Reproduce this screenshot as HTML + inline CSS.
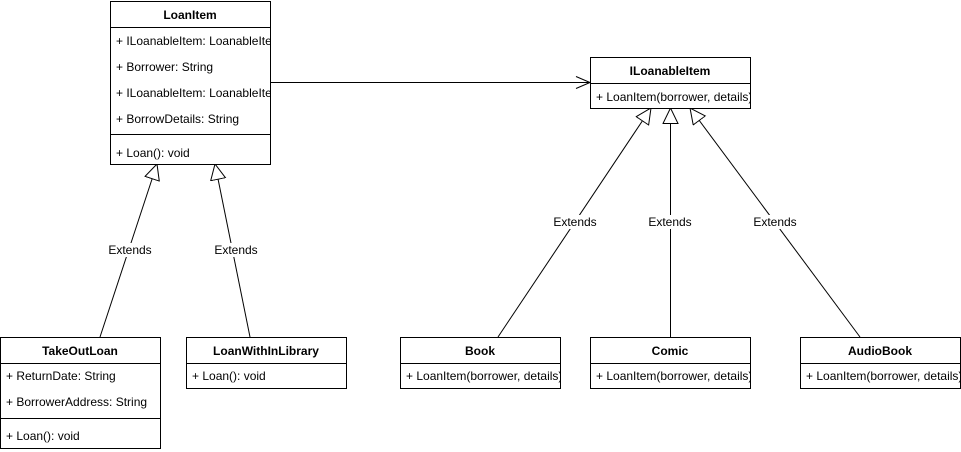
<!DOCTYPE html>
<html><head><meta charset="utf-8"><style>
html,body{margin:0;padding:0;background:#fff;width:961px;height:452px;overflow:hidden}
svg text{font-family:"Liberation Sans",Arial,sans-serif;font-size:12px;fill:#000}
.h{font-weight:bold;text-anchor:middle}
</style></head><body>
<svg width="961" height="452" viewBox="0 0 961 452" xmlns="http://www.w3.org/2000/svg">
<defs>
<marker id="tri" markerUnits="userSpaceOnUse" markerWidth="20" markerHeight="20" refX="16" refY="8" orient="auto">
<path d="M0.5,0.5 L16,8 L0.5,15.5 Z" fill="#fff" stroke="#000" stroke-width="1"/>
</marker>
<marker id="open" markerUnits="userSpaceOnUse" markerWidth="20" markerHeight="20" refX="15" refY="7" orient="auto">
<path d="M1,1 L15,7 L1,13" fill="none" stroke="#000" stroke-width="1"/>
</marker>
</defs>
<g stroke="#000" fill="none" stroke-width="1">
<line x1="270.5" y1="82.5" x2="590" y2="82.5" marker-end="url(#open)"/>
<line x1="100" y1="337" x2="157" y2="164" marker-end="url(#tri)"/>
<line x1="250" y1="337" x2="215" y2="164" marker-end="url(#tri)"/>
<line x1="498" y1="337" x2="651" y2="108" marker-end="url(#tri)"/>
<line x1="670.5" y1="337" x2="670.5" y2="108" marker-end="url(#tri)"/>
<line x1="860" y1="337" x2="690" y2="108" marker-end="url(#tri)"/>
</g>
<g text-anchor="middle" font-size="11">
<rect x="108" y="243" width="44" height="14" fill="#fff"/><text x="130" y="254" font-size="11" text-anchor="middle">Extends</text>
<rect x="214" y="243" width="44" height="14" fill="#fff"/><text x="236" y="254" font-size="11" text-anchor="middle">Extends</text>
<rect x="553" y="215" width="44" height="14" fill="#fff"/><text x="575" y="226" font-size="11" text-anchor="middle">Extends</text>
<rect x="648" y="215" width="44" height="14" fill="#fff"/><text x="670" y="226" font-size="11" text-anchor="middle">Extends</text>
<rect x="753" y="215" width="44" height="14" fill="#fff"/><text x="775" y="226" font-size="11" text-anchor="middle">Extends</text>
</g>

<!-- LoanItem -->
<svg x="110" y="1" width="161" height="164">
<rect x="0.5" y="0.5" width="160" height="163" fill="#fff" stroke="#000"/>
<line x1="0" y1="26.5" x2="161" y2="26.5" stroke="#000"/>
<line x1="0" y1="133.5" x2="161" y2="133.5" stroke="#000"/>
<text class="h" x="80" y="18">LoanItem</text>
<text x="6" y="44">+ ILoanableItem: LoanableItem</text>
<text x="6" y="70">+ Borrower: String</text>
<text x="6" y="96">+ ILoanableItem: LoanableItem</text>
<text x="6" y="122">+ BorrowDetails: String</text>
<text x="6" y="156">+ Loan(): void</text>
</svg>

<!-- ILoanableItem -->
<svg x="590" y="57" width="161" height="52">
<rect x="0.5" y="0.5" width="160" height="51" fill="#fff" stroke="#000"/>
<line x1="0" y1="26.5" x2="161" y2="26.5" stroke="#000"/>
<text class="h" x="80" y="18">ILoanableItem</text>
<text x="6" y="44">+ LoanItem(borrower, details)</text>
</svg>

<!-- TakeOutLoan -->
<svg x="0" y="337" width="161" height="112">
<rect x="0.5" y="0.5" width="160" height="111" fill="#fff" stroke="#000"/>
<line x1="0" y1="26.5" x2="161" y2="26.5" stroke="#000"/>
<line x1="0" y1="81.5" x2="161" y2="81.5" stroke="#000"/>
<text class="h" x="80" y="18">TakeOutLoan</text>
<text x="6" y="43">+ ReturnDate: String</text>
<text x="6" y="69">+ BorrowerAddress: String</text>
<text x="6" y="103">+ Loan(): void</text>
</svg>

<!-- LoanWithInLibrary -->
<svg x="186" y="337" width="161" height="52">
<rect x="0.5" y="0.5" width="160" height="51" fill="#fff" stroke="#000"/>
<line x1="0" y1="26.5" x2="161" y2="26.5" stroke="#000"/>
<text class="h" x="80" y="18">LoanWithInLibrary</text>
<text x="6" y="43">+ Loan(): void</text>
</svg>

<svg x="400" y="337" width="161" height="52">
<rect x="0.5" y="0.5" width="160" height="51" fill="#fff" stroke="#000"/>
<line x1="0" y1="26.5" x2="161" y2="26.5" stroke="#000"/>
<text class="h" x="80" y="18">Book</text>
<text x="6" y="43">+ LoanItem(borrower, details)</text>
</svg>

<svg x="590" y="337" width="161" height="52">
<rect x="0.5" y="0.5" width="160" height="51" fill="#fff" stroke="#000"/>
<line x1="0" y1="26.5" x2="161" y2="26.5" stroke="#000"/>
<text class="h" x="80" y="18">Comic</text>
<text x="6" y="43">+ LoanItem(borrower, details)</text>
</svg>

<svg x="800" y="337" width="161" height="52">
<rect x="0.5" y="0.5" width="160" height="51" fill="#fff" stroke="#000"/>
<line x1="0" y1="26.5" x2="161" y2="26.5" stroke="#000"/>
<text class="h" x="80" y="18">AudioBook</text>
<text x="6" y="43">+ LoanItem(borrower, details)</text>
</svg>
</svg>
</body></html>
